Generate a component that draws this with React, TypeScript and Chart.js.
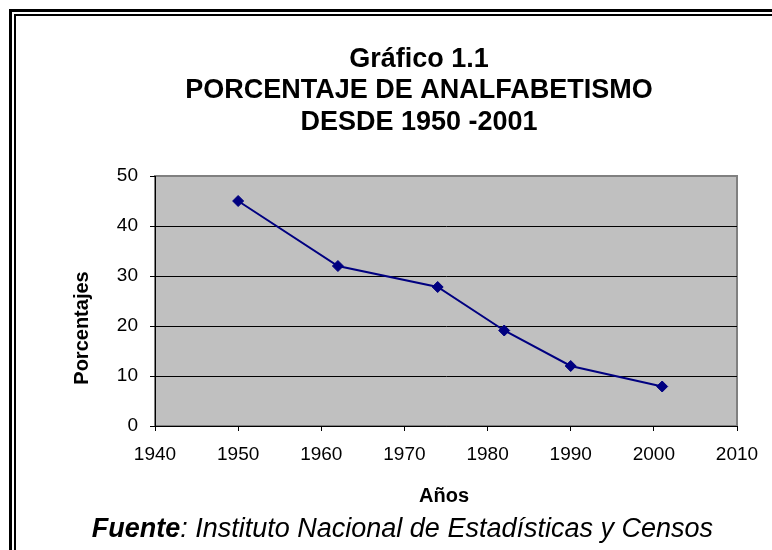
import { useEffect, useRef } from "react";
import { Chart, registerables } from "chart.js";

Chart.register(...registerables);

const years = [1950, 1962, 1974, 1982, 1990, 2001];
const percentages = [45, 32, 27.8, 19.1, 12, 7.9];
const titleLines = ["Gráfico 1.1", "PORCENTAJE DE ANALFABETISMO", "DESDE 1950 -2001"];
const xAxisTitle = "Años";
const yAxisTitle = "Porcentajes";
const sourceLabel = "Fuente";
const sourceText = ": Instituto Nacional de Estadísticas y Censos";
const xRange = [1940, 2010];
const xStep = 10;
const yRange = [0, 50];
const yStep = 10;

const FONT = 'Arial, "Liberation Sans", sans-serif';

const decorPlugin = {
  id: "decor",
  beforeDraw(chart: any) {
    const { ctx, chartArea: a } = chart;
    ctx.save();
    // plot background and border
    ctx.fillStyle = "#C0C0C0";
    ctx.fillRect(a.left, a.top, a.right - a.left, a.bottom - a.top);
    ctx.strokeStyle = "#808080";
    ctx.lineWidth = 2;
    ctx.strokeRect(a.left, a.top, a.right - a.left, a.bottom - a.top);
    // outer double frame
    ctx.fillStyle = "#000";
    ctx.fillRect(9, 9, 800, 3);
    ctx.fillRect(9, 9, 3, 600);
    ctx.fillRect(14, 14, 800, 2);
    ctx.fillRect(14, 14, 2, 600);
    // title
    ctx.fillStyle = "#000";
    ctx.textAlign = "center";
    ctx.textBaseline = "alphabetic";
    ctx.font = `bold 27px ${FONT}`;
    const baselines = [66.5, 98, 129.5];
    titleLines.forEach((t, i) => ctx.fillText(t, 419, baselines[i]));
    // x axis title
    ctx.font = `bold 20px ${FONT}`;
    ctx.fillText(xAxisTitle, 444, 502);
    // y axis title
    ctx.save();
    ctx.translate(88, 328);
    ctx.rotate(-Math.PI / 2);
    ctx.fillText(yAxisTitle, 0, 0);
    ctx.restore();
    // source
    ctx.textAlign = "left";
    ctx.font = `italic bold 27px ${FONT}`;
    const w1 = ctx.measureText(sourceLabel).width;
    ctx.font = `italic 27px ${FONT}`;
    const w2 = ctx.measureText(sourceText).width;
    const x0 = 713 - (w1 + w2);
    ctx.font = `italic bold 27px ${FONT}`;
    ctx.fillText(sourceLabel, x0, 537);
    ctx.font = `italic 27px ${FONT}`;
    ctx.fillText(sourceText, x0 + w1, 537);
    ctx.restore();
  },
};

export default function App() {
  const ref = useRef<HTMLCanvasElement>(null);
  useEffect(() => {
    if (!ref.current) return;
    const chart = new Chart(ref.current, {
      type: "line",
      data: {
        datasets: [
          {
            data: years.map((y, i) => ({ x: y, y: percentages[i] })),
            borderColor: "#000080",
            backgroundColor: "#000080",
            borderWidth: 2,
            tension: 0,
            pointStyle: "rectRot",
            pointRadius: 5.5,
            pointBorderWidth: 1,
            pointBackgroundColor: "#000080",
            pointBorderColor: "#000080",
          },
        ],
      },
      options: {
        responsive: false,
        animation: false,
        events: [],
        layout: { padding: { top: 176, right: 35, bottom: 84, left: 0 } },
        plugins: { legend: { display: false }, tooltip: { enabled: false }, title: { display: false } },
        scales: {
          x: {
            type: "linear",
            min: xRange[0],
            max: xRange[1],
            afterFit: (s: any) => {
              s.height = 40;
            },
            ticks: { stepSize: xStep, color: "#000", padding: 12, font: { family: FONT, size: 19 }, callback: (v: any) => String(v) },
            grid: { drawOnChartArea: false, drawTicks: true, tickLength: 5, color: "#000", tickColor: "#000" },
            border: { color: "#000", width: 1 },
          },
          y: {
            min: yRange[0],
            max: yRange[1],
            afterFit: (s: any) => {
              s.width = 155;
            },
            ticks: { stepSize: yStep, color: "#000", padding: 12, font: { family: FONT, size: 19 } },
            grid: {
              drawOnChartArea: true,
              drawTicks: true,
              tickLength: 5,
              color: (c: any) => (c.tick && c.tick.value === yRange[1] ? "rgba(0,0,0,0)" : "#000"),
              tickColor: "#000",
            },
            border: { color: "#000", width: 1 },
          },
        },
      },
      plugins: [decorPlugin],
    });
    return () => chart.destroy();
  }, []);
  return (
    <div style={{ position: "absolute", left: 0, top: 0, width: 772, height: 550, background: "#fff" }}>
      <canvas ref={ref} width={772} height={550} style={{ width: 772, height: 550, display: "block" }} />
    </div>
  );
}
